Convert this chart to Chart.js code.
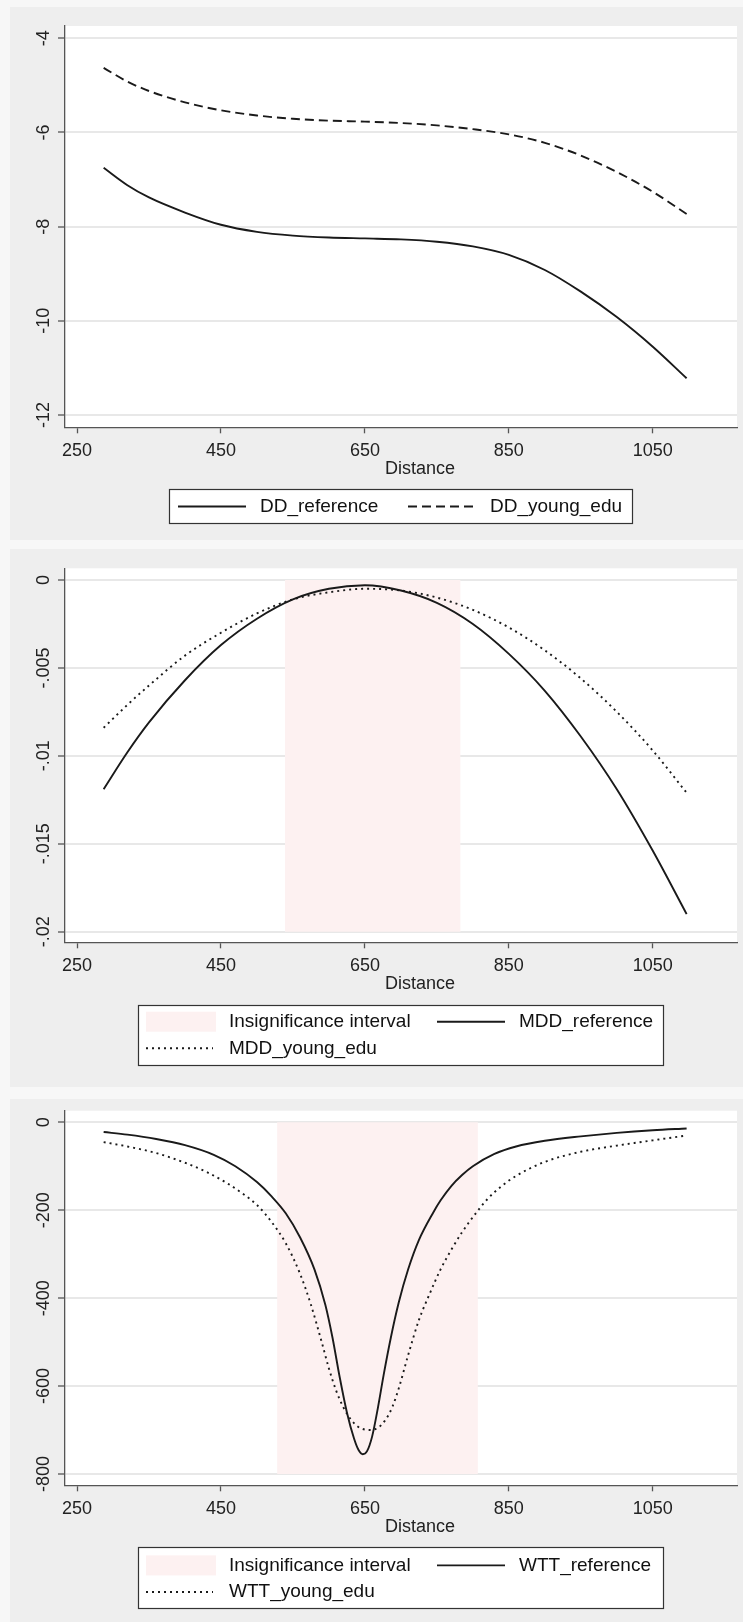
<!DOCTYPE html>
<html>
<head>
<meta charset="utf-8">
<script src="https://cdn.jsdelivr.net/npm/chart.js@4.4.1/dist/chart.umd.min.js"></script>
<style>
  html, body { margin: 0; padding: 0; background: #f7f7f7; }
  body { width: 743px; height: 1622px; position: relative; overflow: hidden; }
  canvas { position: absolute; left: 0; }
</style>
</head>
<body>
<canvas id="dd" width="743" height="540" style="top:0px"></canvas>
<canvas id="mdd" width="743" height="548" style="top:540px"></canvas>
<canvas id="wtt" width="743" height="534" style="top:1088px"></canvas>
<script>
// values
const distance = [287, 320, 350, 400, 450, 500, 550, 600, 650, 700, 750, 800, 850, 900, 950, 1000, 1050, 1097];
const ddReference = [-6.75, -7.12, -7.38, -7.70, -7.96, -8.11, -8.19, -8.23, -8.25, -8.27, -8.32, -8.42, -8.60, -8.92, -9.38, -9.92, -10.55, -11.22];
const ddYoungEdu = [-4.63, -4.92, -5.12, -5.36, -5.53, -5.64, -5.71, -5.75, -5.77, -5.80, -5.85, -5.93, -6.04, -6.22, -6.49, -6.84, -7.26, -7.73];

const mddReference = [-0.0119, -0.0098, -0.0081, -0.0057, -0.0037, -0.0022, -0.0011, -0.0005, -0.0003, -0.0006, -0.0013, -0.0025, -0.0042, -0.0063, -0.0089, -0.0119, -0.0154, -0.0190];
const mddYoungEdu = [-0.0084, -0.0071, -0.0060, -0.0043, -0.0030, -0.0019, -0.0011, -0.0007, -0.0005, -0.0006, -0.0010, -0.0017, -0.0027, -0.0040, -0.0056, -0.0075, -0.0097, -0.0121];

const distanceWttRef = [287, 320, 360, 400, 440, 470, 500, 520, 540, 560, 580, 595, 605, 615, 625, 635, 641, 647, 653, 660, 668, 676, 686, 697, 710, 725, 745, 755, 770, 785, 800, 830, 860, 900, 950, 1000, 1050, 1097];
const wttReference = [-22, -28, -38, -52, -74, -100, -136, -168, -207, -262, -335, -415, -490, -580, -660, -720, -745, -755, -748, -715, -650, -575, -490, -410, -335, -268, -205, -178, -145, -120, -100, -72, -55, -42, -32, -24, -18, -14];

const distanceWttYoung = [287, 320, 360, 400, 430, 460, 480, 500, 520, 540, 560, 575, 590, 600, 610, 620, 630, 640, 650, 658, 668, 678, 688, 698, 710, 725, 740, 755, 770, 785, 805, 820, 840, 860, 900, 950, 1000, 1050, 1097];
const wttYoungEdu = [-45, -55, -70, -92, -113, -140, -162, -188, -226, -275, -345, -415, -500, -560, -610, -648, -675, -692, -699, -700, -695, -678, -648, -600, -530, -450, -390, -335, -290, -250, -205, -175, -145, -122, -90, -67, -53, -41, -30];

// insignificance intervals (distance from, to)
const mddInterval = [539, 783];
const wttInterval = [528, 807];

// ticks
const xTicks = [250, 450, 650, 850, 1050];
const ddTicks = [-12, -10, -8, -6, -4];
const mddTicks = [-0.02, -0.015, -0.01, -0.005, 0];
const mddTickLabels = ['-.02', '-.015', '-.01', '-.005', '0'];
const wttTicks = [-800, -600, -400, -200, 0];

const FONT = "'Liberation Sans', Arial, Helvetica, sans-serif";
const INK = '#1a1a1a';
const PINK = '#fdf1f1';

Chart.defaults.font.family = FONT;
Chart.defaults.font.size = 18;
Chart.defaults.color = '#222';

const pts = (xs, ys) => xs.map((x, i) => ({ x: x, y: ys[i] }));

function curve(label, xs, ys, dash) {
  return {
    label: label, data: pts(xs, ys), borderColor: INK, borderWidth: 1.9,
    borderDash: dash, pointRadius: 0, fill: false, cubicInterpolationMode: 'monotone', order: 0
  };
}

function band(label, range, yTop, yBottom) {
  return {
    label: label, band: true, data: [{ x: range[0], y: yTop }, { x: range[1], y: yTop }],
    borderWidth: 0, pointRadius: 0, backgroundColor: PINK, fill: { value: yBottom }, order: 5
  };
}

// put the rotated y labels centred at x = 44
function yPadding(labels) {
  const c = document.createElement('canvas').getContext('2d');
  c.font = '18px ' + FONT;
  const widest = Math.max(...labels.map(l => c.measureText(l).width));
  return 65 - 7 - 44 - widest / 2;
}

// grey graph region, white plot region, x title and the boxed legend
const frame = {
  id: 'frame',
  beforeDraw(chart, args, opts) {
    const { ctx, chartArea: a, width, height } = chart;
    ctx.save();
    ctx.fillStyle = '#f7f7f7';
    ctx.fillRect(0, 0, width, height);
    ctx.fillStyle = '#eeeeee';
    ctx.fillRect(10, opts.panel[0], width - 10, opts.panel[1]);
    ctx.fillStyle = '#ffffff';
    ctx.fillRect(a.left, a.top, a.right - a.left, a.bottom - a.top);
    ctx.restore();
  },
  afterDraw(chart, args, opts) {
    const ctx = chart.ctx;
    const sets = chart.data.datasets;
    ctx.save();
    ctx.font = '18px ' + FONT;
    ctx.textBaseline = 'middle';
    ctx.textAlign = 'center';
    ctx.fillStyle = '#222';
    ctx.fillText('Distance', 420, opts.titleY);

    const b = opts.box;
    ctx.fillStyle = '#ffffff';
    ctx.fillRect(b[0], b[1], b[2], b[3]);
    ctx.strokeStyle = '#333';
    ctx.lineWidth = 1.2;
    ctx.strokeRect(b[0] + 0.5, b[1] + 0.5, b[2], b[3]);

    ctx.font = '19px ' + FONT;
    ctx.textAlign = 'left';
    opts.items.forEach(it => {
      const d = sets[it.ds];
      if (d.band) {
        ctx.fillStyle = d.backgroundColor;
        ctx.fillRect(it.x1, it.y - 10, it.x2 - it.x1, 20);
      } else {
        ctx.setLineDash(d.borderDash || []);
        ctx.strokeStyle = d.borderColor;
        ctx.lineWidth = d.borderWidth;
        ctx.beginPath();
        ctx.moveTo(it.x1, it.y);
        ctx.lineTo(it.x2, it.y);
        ctx.stroke();
        ctx.setLineDash([]);
      }
      ctx.fillStyle = '#111';
      ctx.fillText(d.label, it.tx, it.y);
    });
    ctx.restore();
  }
};

function makeChart(id, o) {
  const canvas = document.getElementById(id);
  return new Chart(canvas, {
    type: 'line',
    data: { datasets: o.datasets },
    options: {
      responsive: false,
      animation: false,
      devicePixelRatio: 1,
      layout: { padding: { left: 0, right: 6, top: o.top, bottom: 0 } },
      plugins: { legend: { display: false }, tooltip: { enabled: false }, frame: o.frame },
      scales: {
        x: {
          type: 'linear', min: 233.3, max: 1167,
          afterBuildTicks: s => { s.ticks = xTicks.map(v => ({ value: v })); },
          afterFit: s => { s.height = canvas.height - o.bottom; },
          ticks: { padding: 7, maxRotation: 0, autoSkip: false, color: '#222', callback: v => String(v) },
          grid: { drawOnChartArea: false, tickLength: 6, tickColor: '#555', tickWidth: 1.3 },
          border: { color: '#555', width: 1.3 }
        },
        y: {
          type: 'linear', min: o.yMin, max: o.yMax,
          afterBuildTicks: s => { s.ticks = o.yTicks.map(v => ({ value: v })); },
          afterFit: s => { s.width = 65; },
          ticks: {
            crossAlign: 'center', minRotation: 90, maxRotation: 90, autoSkip: false,
            padding: yPadding(o.yLabels), color: '#222', callback: (v, i) => o.yLabels[i]
          },
          grid: { color: '#e8e8e8', lineWidth: 2, tickLength: 7, tickColor: '#555', tickWidth: 1.3 },
          border: { color: '#555', width: 1.3 }
        }
      }
    },
    plugins: [frame]
  });
}

makeChart('dd', {
  top: 26, bottom: 427.3, yMin: -12.26, yMax: -3.74,
  yTicks: ddTicks, yLabels: ddTicks.map(String),
  datasets: [
    curve('DD_reference', distance, ddReference, []),
    curve('DD_young_edu', distance, ddYoungEdu, [9, 5])
  ],
  frame: {
    panel: [7, 533], titleY: 469.3, box: [169, 489, 463, 34],
    items: [
      { ds: 0, x1: 178, x2: 246, tx: 260, y: 506.5 },
      { ds: 1, x1: 408, x2: 476, tx: 490, y: 506.5 }
    ]
  }
});

makeChart('mdd', {
  top: 28.3, bottom: 402.3, yMin: -0.020603, yMax: 0.000665,
  yTicks: mddTicks, yLabels: mddTickLabels,
  datasets: [
    band('Insignificance interval', mddInterval, 0, -0.02),
    curve('MDD_reference', distance, mddReference, []),
    curve('MDD_young_edu', distance, mddYoungEdu, [2, 4])
  ],
  frame: {
    panel: [9, 538], titleY: 444.3, box: [138, 465, 525, 60],
    items: [
      { ds: 0, x1: 146, x2: 216, tx: 229, y: 481.7 },
      { ds: 1, x1: 437, x2: 505, tx: 519, y: 481.7 },
      { ds: 2, x1: 146, x2: 213, tx: 229, y: 508.3 }
    ]
  }
});

makeChart('wtt', {
  top: 22.7, bottom: 397.3, yMin: -825.7, yMax: 26.4,
  yTicks: wttTicks, yLabels: wttTicks.map(String),
  datasets: [
    band('Insignificance interval', wttInterval, 0, -800),
    curve('WTT_reference', distanceWttRef, wttReference, []),
    curve('WTT_young_edu', distanceWttYoung, wttYoungEdu, [2, 4])
  ],
  frame: {
    panel: [11, 523], titleY: 439, box: [138, 459, 525, 61],
    items: [
      { ds: 0, x1: 146, x2: 216, tx: 229, y: 477.4 },
      { ds: 1, x1: 437, x2: 505, tx: 519, y: 477.4 },
      { ds: 2, x1: 146, x2: 213, tx: 229, y: 504 }
    ]
  }
});
</script>
</body>
</html>
